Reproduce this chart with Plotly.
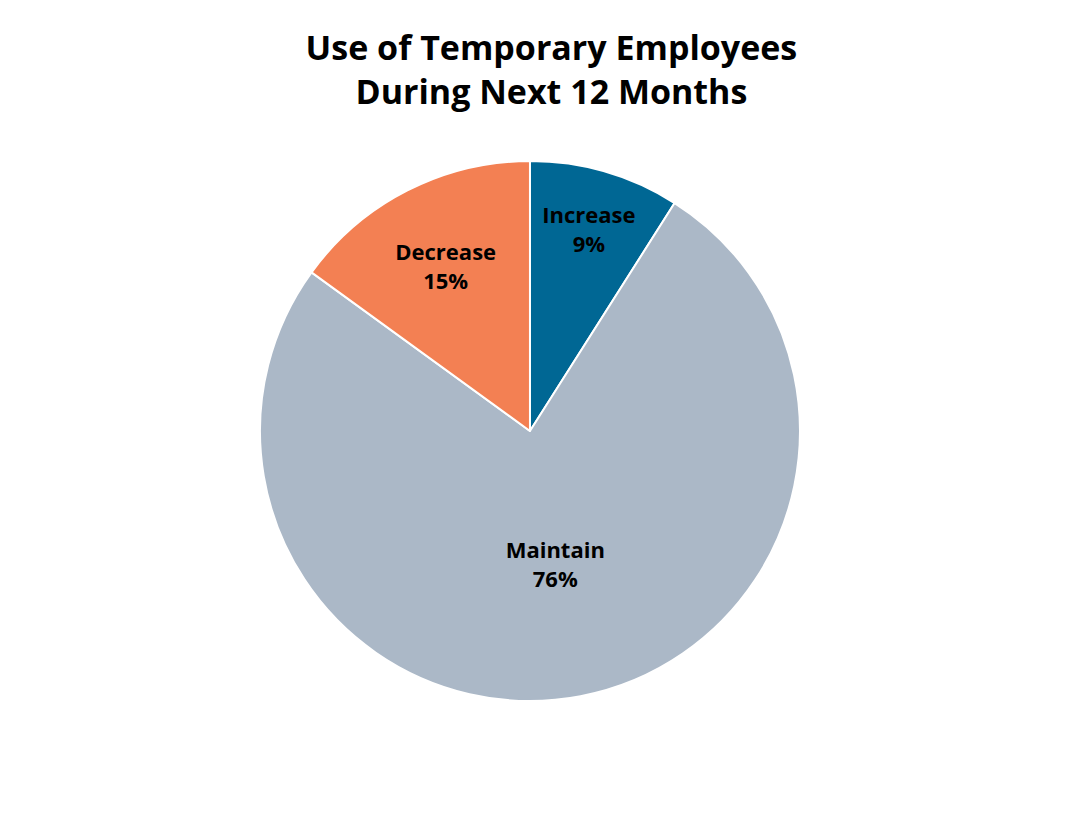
import plotly.graph_objects as go

labels = ["Increase", "Maintain", "Decrease"]
values = [9, 76, 15]
colors = ["#006794", "#ABB8C7", "#F38053"]

fig = go.Figure(go.Pie(
    labels=labels, values=values, sort=False, direction="clockwise", rotation=0,
    marker=dict(colors=colors, line=dict(color="white", width=2)),
    texttemplate="<b>%{label}<br>%{percent:.0%}</b>", textposition="inside",
    insidetextorientation="horizontal",
    textfont=dict(family="Open Sans", size=22, color="black"),
    domain=dict(x=[0.2345, 0.7375], y=[0.16, 0.8145]),
    showlegend=False, hoverinfo="label+percent",
))
fig.update_layout(
    width=1074, height=825, margin=dict(l=0, r=0, t=0, b=0),
    paper_bgcolor="white",
    title=dict(text="<b>Use of Temporary Employees<br>During Next 12 Months</b>",
               x=0.506, xanchor="center", y=0.937, yanchor="middle",
               font=dict(family="Open Sans", size=34, color="black")),
)
fig.write_html("out.html")
